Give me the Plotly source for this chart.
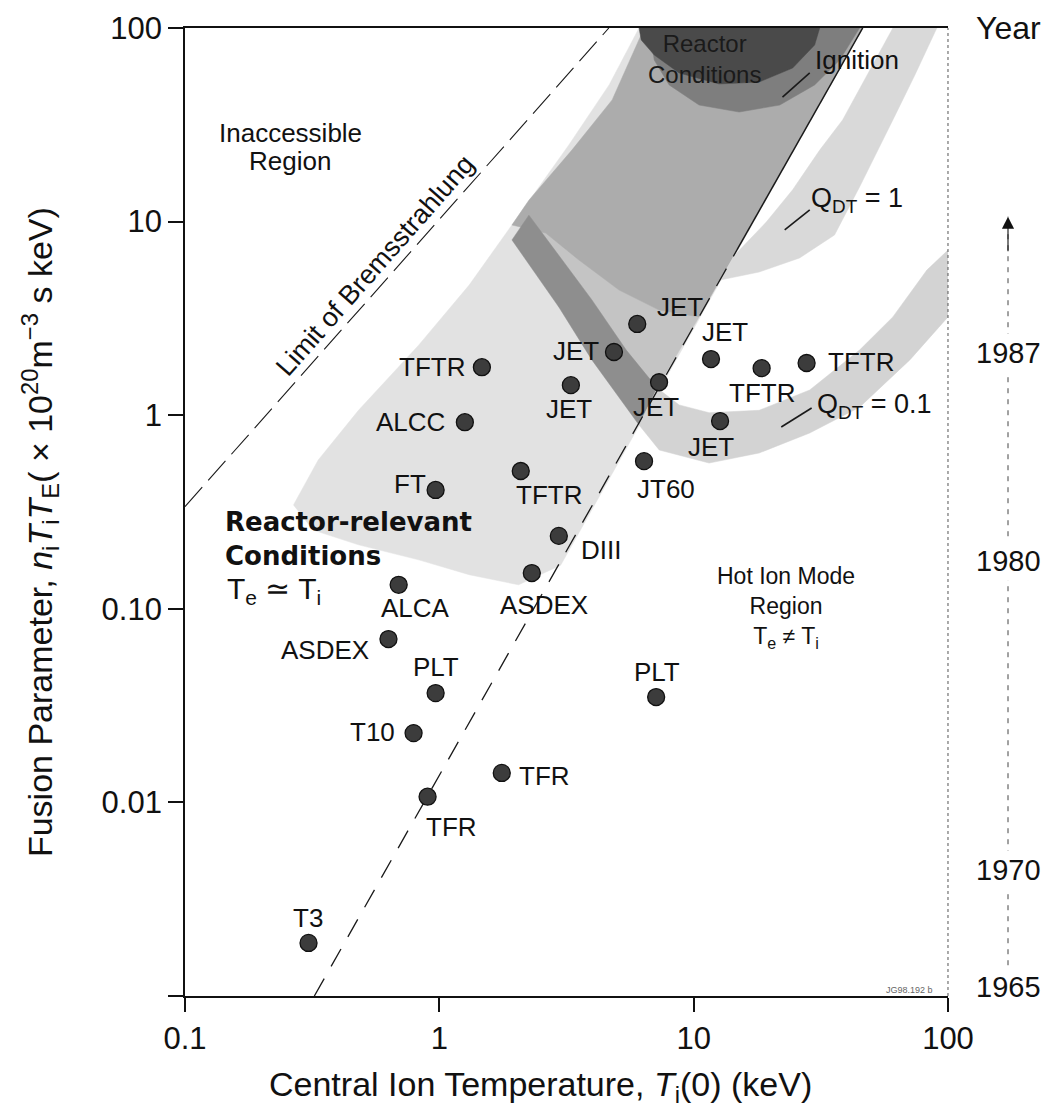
import numpy as np
import plotly.graph_objects as go

# ---------------- data ----------------
DEVICES = ["TFTR", "ALCC", "FT", "TFTR", "DIII", "ASDEX", "ALCA", "ASDEX", "PLT", "T10",
           "TFR", "TFR", "T3", "PLT", "JT60", "JET", "JET", "JET", "JET", "JET",
           "TFTR", "TFTR", "JET"]
TI_KEV = [1.47, 1.26, 0.967, 2.09, 2.95, 2.31, 0.692, 0.631, 0.967, 0.792,
          1.76, 0.899, 0.306, 7.12, 6.38, 6.0, 4.86, 3.29, 7.31, 11.7,
          18.5, 27.8, 12.7]
FUSION = [1.77, 0.92, 0.411, 0.515, 0.238, 0.153, 0.133, 0.0698, 0.0367, 0.0228,
          0.0142, 0.0107, 0.00188, 0.035, 0.579, 2.96, 2.12, 1.43, 1.48, 1.95,
          1.75, 1.86, 0.933]

X_TICKS = [0.1, 1, 10, 100]
X_TICKTEXT = ["0.1", "1", "10", "100"]
Y_TICKS = [0.001, 0.01, 0.1, 1, 10, 100]
Y_TICKTEXT = ["", "0.01", "0.10", "1", "10", "100"]

YEARS = ["1965", "1970", "1980", "1987"]
YEAR_POS = [0.00111, 0.00448, 0.177, 2.10]
YEAR_ARROW_TOP = 10.6

# boundary curves (T_i in keV, fusion parameter)
BREMS_T = [0.1, 4.64]
BREMS_N = [0.337, 100]
TETI_T = [0.3225, 14.8, 46.2]
TETI_N = [0.001, 7.14, 100]

# shaded regions (polygons)
LIGHT_T = [0.267, 0.334, 0.481, 0.829, 1.31, 2.05, 3.23, 4.65, 6.10, 46.2, 3.0, 2.05, 1.31, 0.829, 0.481, 0.319]
LIGHT_N = [0.344, 0.587, 1.06, 2.30, 4.70, 10.8, 24.9, 50.8, 100, 100, 0.168, 0.133, 0.150, 0.179, 0.214, 0.255]
MID2_T = [2.25, 10.5, 7.19, 2.95]
MID2_N = [10.8, 3.22, 1.38, 3.62]
MID_T = [6.39, 46.2, 10.5, 7.32, 5.09, 3.54, 2.62, 1.93, 2.25, 3.32, 4.78]
MID_N = [100, 100, 3.22, 3.49, 4.43, 6.33, 8.73, 9.60, 12.9, 23.4, 42.5]
STRIPE_T = [2.25, 2.95, 3.98, 5.43, 7.19, 6.10, 5.43, 3.98, 2.95, 2.25, 1.93]
STRIPE_N = [10.8, 6.72, 3.94, 2.17, 1.38, 0.890, 1.10, 1.93, 3.62, 5.97, 8.04]
Q01_T = [7.19, 8.77, 11.5, 18.1, 28.6, 44.9, 60.7, 82.6, 100, 100, 70.8, 44.9, 28.6, 18.1, 11.5, 7.32, 6.10]
Q01_N = [1.38, 1.13, 1.03, 1.06, 1.35, 2.17, 3.22, 5.62, 7.13, 3.22, 1.93, 1.10, 0.809, 0.638, 0.566, 0.661, 0.890]
Q1_T = [14.5, 19.3, 24.5, 31.3, 38.5, 49.2, 60.7, 90.4, 74.1, 60.7, 44.9, 35.8, 26.1, 18.1, 12.7]
Q1_N = [6.72, 9.95, 14.6, 23.4, 33.5, 60.7, 100, 100, 57.2, 33.5, 15.1, 8.53, 6.49, 5.49, 4.99]
IGN_T = [6.68, 44.9, 37.5, 29.9, 21.8, 15.1, 10.5, 8.01, 7.0]
IGN_N = [100, 100, 68.3, 50.8, 40.0, 36.8, 40.0, 50.8, 68.3]
REACT_T = [6.10, 31.3, 29.9, 24.5, 18.1, 12.6, 8.77, 7.0, 6.22]
REACT_N = [100, 100, 81.7, 62.1, 52.6, 51.4, 58.6, 72.5, 86.7]

IGN_LEADER_T = [22.35, 28.6]
IGN_LEADER_N = [44.0, 58.6]
Q1_LEADER_T = [22.8, 28.6]
Q1_LEADER_N = [9.05, 11.5]
Q01_LEADER_T = [22.1, 29.1]
Q01_LEADER_N = [0.869, 1.09]

# ---------------- layout / style constants ----------------
FONT = "Liberation Sans, Arial, Helvetica, sans-serif"
LABEL_OFFSETS = [(-50, 0), (-54, 0), (-26, -6), (28, 24), (42, 14), (12, 32), (17, 23), (-63, 11),
                 (0, -26), (-41, -1), (43, 3), (24, 30), (-1, -25), (1, -25), (22, 28), (43, -17),
                 (-38, -1), (-2, 24), (-3, 25), (14, -27), (0, 25), (54, -1), (-9, 26)]
YEAR_AXIS_X = 1008

fig = go.Figure()


def poly(T, N, color):
    fig.add_trace(go.Scatter(x=list(T) + [T[0]], y=list(N) + [N[0]], mode="lines",
                             fill="toself", fillcolor=color, line=dict(width=0.5, color=color),
                             hoverinfo="skip", showlegend=False))


poly(LIGHT_T, LIGHT_N, "#e2e2e2")
poly(MID2_T, MID2_N, "#c4c4c4")
poly(MID_T, MID_N, "#acacac")
poly(STRIPE_T, STRIPE_N, "#8e8e8e")
poly(Q01_T, Q01_N, "#d3d3d3")
poly(Q1_T, Q1_N, "#d9d9d9")
poly(IGN_T, IGN_N, "#7e7e7e")
poly(REACT_T, REACT_N, "#4a4a4a")


def line(T, N, dash="solid", width=1.2, color="#1a1a1a"):
    fig.add_trace(go.Scatter(x=T, y=N, mode="lines", line=dict(color=color, width=width, dash=dash),
                             hoverinfo="skip", showlegend=False))


line(BREMS_T, BREMS_N, dash="26px,9px", width=1.1)
line(TETI_T[:2], TETI_N[:2], dash="20px,14px", width=1.3)
line(TETI_T[1:], TETI_N[1:], width=1.5)
line(IGN_LEADER_T, IGN_LEADER_N, width=1.6)
line(Q1_LEADER_T, Q1_LEADER_N, width=1.6)
line(Q01_LEADER_T, Q01_LEADER_N, width=1.6)

fig.add_trace(go.Scatter(x=TI_KEV, y=FUSION, mode="markers", text=DEVICES,
                         marker=dict(size=17, color="#3c3c3c", line=dict(color="#111111", width=1.3)),
                         showlegend=False))

# year axis on the right
fig.add_trace(go.Scatter(x=[YEAR_AXIS_X, YEAR_AXIS_X], y=[YEAR_POS[0], YEAR_ARROW_TOP],
                         xaxis="x2", yaxis="y", mode="lines",
                         line=dict(color="#444444", width=1, dash="5px,6px"),
                         hoverinfo="skip", showlegend=False))

annotations = []
for name, t, n, (dx, dy) in zip(DEVICES, TI_KEV, FUSION, LABEL_OFFSETS):
    annotations.append(dict(x=np.log10(t), y=np.log10(n), xref="x", yref="y", text=name,
                            showarrow=False, xshift=dx, yshift=-dy, xanchor="center", yanchor="middle",
                            font=dict(family=FONT, size=26, color="#111111")))

for yr, pos in zip(YEARS, YEAR_POS):
    annotations.append(dict(x=YEAR_AXIS_X, y=np.log10(pos), xref="x2", yref="y", text=yr,
                            showarrow=False, bgcolor="white", xanchor="center", yanchor="middle",
                            borderpad=3, font=dict(family=FONT, size=29, color="#111111")))
annotations.append(dict(x=YEAR_AXIS_X, y=np.log10(YEAR_ARROW_TOP), xref="x2", yref="y", text="",
                        showarrow=True, ax=0, ay=36, arrowhead=2, arrowsize=2.2, arrowwidth=1.1,
                        arrowcolor="#111111"))
annotations.append(dict(x=YEAR_AXIS_X, y=2, xref="x2", yref="y", text="Year", showarrow=False,
                        xanchor="center", yanchor="middle", font=dict(family=FONT, size=32, color="#111111")))


def note(text, t, n, size=26, xanchor="center", angle=0, family=FONT, color="#111111", align="center"):
    annotations.append(dict(x=np.log10(t), y=np.log10(n), xref="x", yref="y", text=text,
                            showarrow=False, xanchor=xanchor, yanchor="middle", textangle=angle,
                            align=align, font=dict(family=family, size=size, color=color)))


note("Inaccessible", 0.2594, 28.7)
note("Region", 0.2594, 20.6)
note("Limit of Bremsstrahlung", 0.561, 5.97, size=27, angle=-48.6)
note("<b>Reactor-relevant</b><br><b>Conditions</b>", 0.1412, 0.230, size=26, xanchor="left",
     family="DejaVu Sans, sans-serif", align="left")
note("T<sub>e</sub> ≃ T<sub>i</sub>", 0.1436, 0.124, size=30, xanchor="left")
note("Hot Ion Mode<br>Region<br>T<sub>e</sub> ≠ T<sub>i</sub>", 23.0, 0.101, size=23)
note("Reactor<br>Conditions", 11.0, 69.0, size=24, color="#1a1a1a")
note("Ignition", 43.8, 68.3)
note("Q<sub>DT</sub> = 1", 43.8, 12.9, size=27)
note("Q<sub>DT</sub> = 0.1", 51.5, 1.116, size=27)
note("JG98.192 b", 70.8, 0.00107, size=9, color="#666666")

annotations.append(dict(x=0.4109, y=-0.093, xref="paper", yref="paper", showarrow=False,
                        text="Central Ion Temperature, <i>T</i><sub>i</sub>(0) (keV)",
                        xanchor="center", yanchor="middle", font=dict(family=FONT, size=34, color="#111111")))
annotations.append(dict(x=-0.1678, y=0.4793, xref="paper", yref="paper", showarrow=False, textangle=-90,
                        text="Fusion Parameter, <i>n</i><sub>i</sub><i>T</i><sub>i</sub><i>T</i><sub>E</sub>"
                             "( × 10<sup>20</sup>m<sup>−3</sup> s keV)",
                        xanchor="center", yanchor="middle", font=dict(family=FONT, size=34, color="#111111")))

fig.update_layout(
    width=1049, height=1112,
    margin=dict(l=185, r=0, t=28, b=116, autoexpand=False),
    paper_bgcolor="white", plot_bgcolor="rgba(0,0,0,0)",
    showlegend=False,
    font=dict(family=FONT, color="#111111"),
    xaxis=dict(type="log", range=[-1, 2], domain=[0, 0.8831], anchor="y",
               tickvals=X_TICKS, ticktext=X_TICKTEXT, ticks="outside", ticklen=14, tickwidth=1.5,
               tickcolor="#111111", showline=True, linewidth=1.5, linecolor="#111111", mirror=True,
               showgrid=False, zeroline=False, automargin=False,
               tickfont=dict(size=31, family=FONT, color="#111111")),
    yaxis=dict(type="log", range=[-3, 2], domain=[0, 1], anchor="x",
               tickvals=Y_TICKS, ticktext=Y_TICKTEXT, ticks="outside", ticklen=15, tickwidth=1.5,
               tickcolor="#111111", showline=True, linewidth=1.8, linecolor="#111111",
               showgrid=False, zeroline=False, automargin=False,
               tickfont=dict(size=31, family=FONT, color="#111111")),
    xaxis2=dict(domain=[0, 1], range=[185, 1049], anchor="y", visible=False,
                showgrid=False, zeroline=False),
    annotations=annotations,
    shapes=[dict(type="line", xref="x domain", yref="y domain", x0=1, x1=1, y0=0, y1=1,
                 line=dict(color="#555555", width=1, dash="dot"))],
)

fig.write_html("out.html")
